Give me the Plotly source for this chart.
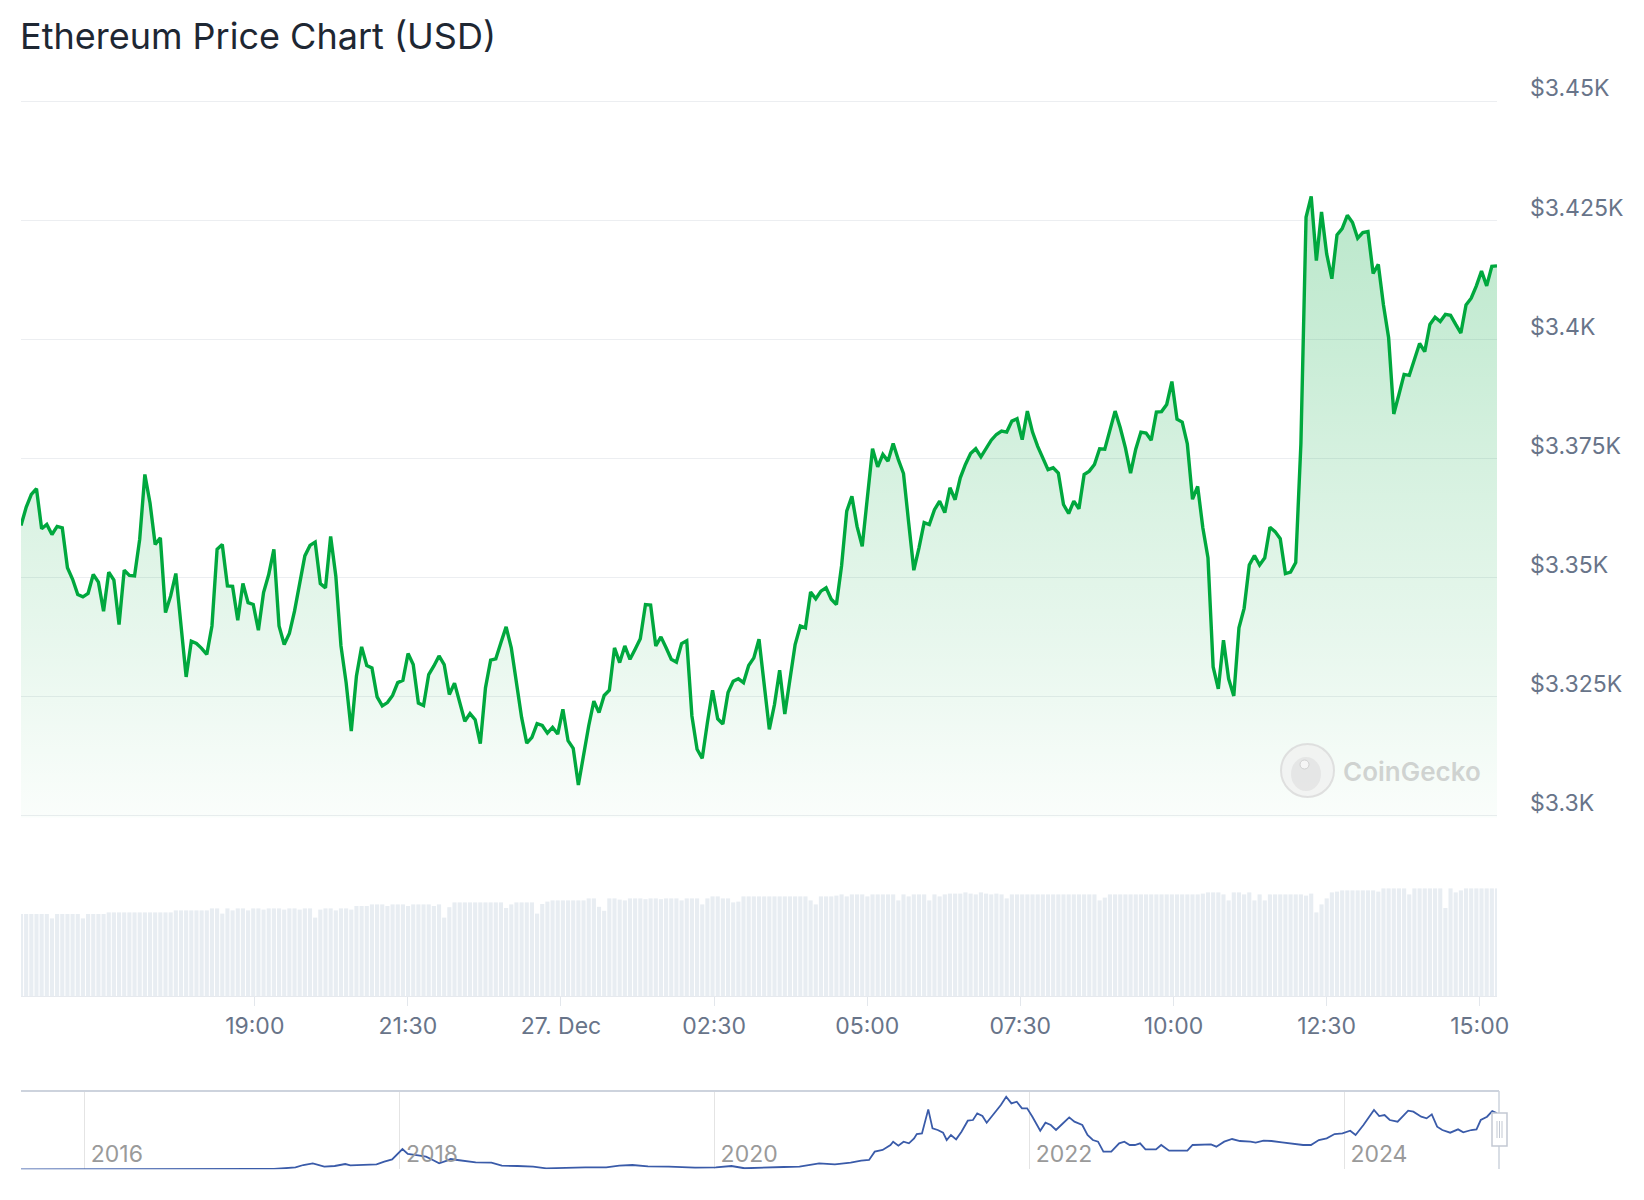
import pandas as pd
import plotly.graph_objects as go

W, H = 1644, 1200

# 24h window, 5-minute points
start_time = "2024-12-26 15:11"
end_time = "2024-12-27 15:17"

price = [
    3361.0, 3364.8, 3367.5, 3368.7, 3360.3, 3361.2, 3359.1, 3360.8, 3360.5, 3352.1,
    3349.7, 3346.5, 3346.0, 3346.7, 3350.7, 3349.1, 3343.0, 3351.2, 3349.5, 3340.2,
    3351.6, 3350.5, 3350.4, 3358.1, 3371.7, 3365.7, 3357.0, 3358.4, 3342.7, 3346.2,
    3350.9, 3340.6, 3329.2, 3336.7, 3336.2, 3335.2, 3333.9, 3339.9, 3356.0, 3357.0,
    3348.3, 3348.2, 3341.1, 3348.8, 3344.8, 3344.4, 3339.0, 3346.9, 3350.7, 3356.0,
    3339.9, 3336.0, 3338.3, 3343.0, 3349.0, 3354.6, 3356.8, 3357.5, 3348.8, 3347.9,
    3358.7, 3350.4, 3335.7, 3328.0, 3317.8, 3329.4, 3335.5, 3331.6, 3331.1, 3325.0,
    3323.1, 3323.8, 3325.3,
    3328.0, 3328.5, 3334.1, 3331.8, 3323.7, 3323.2, 3329.7, 3331.5, 3333.6, 3331.8,
    3325.5, 3327.9, 3323.8, 3319.9, 3321.5, 3320.2, 3315.2, 3326.9, 3332.7, 3333.0,
    3336.4, 3339.7, 3335.3, 3328.0, 3320.7, 3315.3, 3316.5, 3319.4, 3319.0, 3317.4,
    3318.6, 3317.2, 3322.4, 3315.8, 3314.2, 3306.5, 3313.0, 3318.9, 3324.1, 3321.7,
    3325.3, 3326.4, 3335.3, 3332.2, 3335.7, 3332.9, 3335.0, 3337.2, 3344.4, 3344.3,
    3335.7, 3337.6, 3335.3, 3332.9, 3332.3, 3336.2, 3336.8, 3321.0, 3314.0, 3312.1,
    3319.6, 3326.4, 3320.4, 3319.3, 3325.9, 3328.3, 3328.8, 3328.0, 3331.6, 3333.2,
    3337.1, 3327.3,
    3318.2, 3323.4, 3330.6, 3321.4, 3329.0, 3336.0, 3339.9, 3339.5, 3347.0, 3345.6,
    3347.2, 3347.9, 3345.5, 3344.4, 3352.5, 3364.0, 3367.1, 3360.8, 3356.6, 3367.5,
    3377.1, 3373.3, 3375.9, 3374.5, 3378.2, 3374.8, 3371.9, 3361.6, 3351.6, 3356.3,
    3361.6, 3361.2, 3364.3, 3366.1, 3363.7, 3368.9, 3366.4, 3371.0, 3373.8, 3376.1,
    3377.1, 3375.4, 3377.3, 3378.9, 3380.1, 3380.8, 3380.6, 3382.9, 3383.4, 3379.0,
    3385.0, 3380.6, 3377.6, 3375.2, 3372.7, 3373.1, 3372.0, 3365.4, 3363.5, 3366.1,
    3364.5, 3371.7, 3372.4, 3373.8, 3377.1, 3377.0, 3381.1, 3385.0, 3381.5, 3377.3,
    3372.0, 3377.0, 3380.6,
    3380.4, 3378.9, 3384.8, 3384.9, 3386.4, 3391.2, 3383.3, 3382.7, 3378.1, 3366.5,
    3369.2, 3360.5, 3354.2, 3331.3, 3326.7, 3336.9, 3328.8, 3325.2, 3339.5, 3343.6,
    3352.7, 3354.7, 3352.7, 3354.2, 3360.6, 3359.7, 3358.2, 3350.9, 3351.2, 3353.2,
    3378.1, 3425.7, 3430.1, 3416.6, 3426.8, 3418.0, 3412.8, 3422.0, 3423.3, 3426.1,
    3424.6, 3421.3, 3422.5, 3422.7, 3413.9, 3415.8, 3407.3, 3400.4, 3384.4, 3388.5,
    3392.7, 3392.5, 3395.8, 3399.2, 3397.5, 3403.2, 3404.7, 3403.8, 3405.3, 3405.1,
    3403.2, 3401.4, 3407.3, 3408.7, 3411.3, 3414.4, 3411.3, 3415.4, 3415.5,
]

# volume in billions USD (bars, no axis labels shown)
volume_bn = [
    20.5, 20.5, 20.5, 20.5, 20.5, 20.5, 19.4, 20.5, 20.5, 20.5,
    20.5, 20.5, 19.4, 20.5, 20.5, 20.5, 20.5, 20.9, 20.9, 20.9,
    20.9, 20.9, 20.9, 20.9, 20.9, 20.9, 20.9, 20.9, 20.9, 20.9,
    21.4, 21.4, 21.4, 21.4, 21.4, 21.4, 21.4, 21.9, 21.9, 20.6,
    21.9, 21.4, 21.9, 21.9, 21.4, 21.9, 21.9, 21.6, 21.9, 21.9,
    21.9, 21.6, 21.9, 21.9, 21.6, 21.9, 21.9, 19.6, 21.6, 21.9,
    21.9, 21.4, 21.9, 21.9, 21.6, 22.5, 22.5, 22.5, 22.9, 22.9,
    22.9, 22.5, 22.9, 22.9, 22.9, 22.5, 22.9, 22.9, 22.9, 22.9,
    22.5, 22.9, 19.6, 22.2, 23.4, 23.4, 23.4, 23.4, 23.4, 23.4,
    23.4, 23.4, 23.4, 23.4, 22.0, 22.9, 23.4, 23.4, 23.4, 23.4,
    20.6, 23.0, 23.6, 23.9, 23.9, 23.9, 23.9, 23.9, 23.9, 23.9,
    24.4, 24.4, 22.3, 21.3, 24.4, 24.4, 24.1, 23.9, 24.4, 24.4,
    24.4, 24.2, 24.4, 24.4, 24.2, 24.4, 24.4, 24.4, 23.9, 24.4,
    24.4, 24.4, 22.9, 24.4, 24.9, 24.9, 24.4, 24.4, 23.4, 23.6,
    24.9, 24.9, 24.9, 24.9, 24.9, 24.9, 24.9, 24.9, 24.9, 24.9,
    24.9, 24.9, 24.9, 23.9, 22.9, 24.9, 24.9, 24.9, 25.1, 25.4,
    24.9, 25.4, 25.4, 25.4, 24.9, 25.4, 25.4, 25.4, 25.4, 25.4,
    23.9, 25.4, 24.9, 25.4, 25.4, 25.4, 23.9, 25.4, 24.9, 25.4,
    25.6, 25.6, 25.6, 25.9, 25.6, 25.4, 25.9, 25.6, 25.4, 25.6,
    25.4, 24.4, 25.4, 25.4, 25.4, 25.4, 25.4, 25.4, 25.4, 25.4,
    25.4, 25.4, 25.4, 25.4, 25.4, 25.4, 25.4, 25.4, 25.4, 23.9,
    24.6, 25.4, 25.4, 25.4, 25.4, 25.4, 25.4, 25.4, 25.4, 25.4,
    25.4, 25.4, 25.4, 25.4, 25.4, 25.4, 25.4, 25.4, 25.4, 25.6,
    25.9, 25.9, 25.9, 25.4, 23.9, 25.9, 25.9, 25.4, 25.9, 23.9,
    25.4, 23.9, 25.4, 25.4, 25.4, 25.4, 25.4, 25.4, 25.4, 25.1,
    25.6, 20.9, 22.9, 24.4, 25.9, 26.1, 26.4, 26.4, 26.4, 26.4,
    26.4, 26.4, 26.4, 26.1, 26.9, 26.9, 26.9, 26.9, 26.9, 25.4,
    26.9, 26.9, 26.9, 26.9, 26.9, 26.9, 22.0, 26.9, 25.9, 26.4,
    26.9, 26.9, 26.9, 26.9, 26.9, 26.9, 26.9,
]

time_ticks = ["2024-12-26 19:00", "2024-12-26 21:30", "2024-12-27 00:00",
              "2024-12-27 02:30", "2024-12-27 05:00", "2024-12-27 07:30",
              "2024-12-27 10:00", "2024-12-27 12:30", "2024-12-27 15:00"]
time_tick_text = ["19:00", "21:30", "27. Dec", "02:30", "05:00", "07:30",
                  "10:00", "12:30", "15:00"]

price_ticks = [3300, 3325, 3350, 3375, 3400, 3425, 3450]
price_tick_text = ["$3.3K", "$3.325K", "$3.35K", "$3.375K", "$3.4K", "$3.425K", "$3.45K"]

# full-history navigator (decimal year, USD)
nav_year = [
    2015.59, 2016.00, 2016.45, 2016.90, 2017.20, 2017.336, 2017.386, 2017.446, 2017.519, 2017.585,
    2017.652, 2017.685, 2017.784, 2017.851, 2017.900, 2017.950, 2018.016, 2018.050, 2018.116, 2018.166,
    2018.209, 2018.249, 2018.299, 2018.322, 2018.365, 2018.415, 2018.481, 2018.581, 2018.647, 2018.747,
    2018.846, 2018.929, 2019.046, 2019.178, 2019.311, 2019.394, 2019.477, 2019.576, 2019.709, 2019.875,
    2020.008, 2020.107, 2020.190, 2020.307, 2020.439, 2020.539, 2020.605, 2020.664, 2020.764, 2020.864,
    2020.931, 2020.981, 2021.015, 2021.065, 2021.115, 2021.132, 2021.165, 2021.198, 2021.232, 2021.265,
    2021.282, 2021.315, 2021.355, 2021.382, 2021.415, 2021.449, 2021.472, 2021.499, 2021.532, 2021.566,
    2021.606, 2021.639, 2021.666, 2021.699, 2021.726, 2021.766, 2021.816, 2021.850, 2021.883, 2021.917,
    2021.950, 2021.983, 2022.017, 2022.067, 2022.100, 2022.134, 2022.167, 2022.200, 2022.251, 2022.284,
    2022.334, 2022.367, 2022.401, 2022.434, 2022.468, 2022.518, 2022.568, 2022.601, 2022.635, 2022.668,
    2022.701, 2022.735, 2022.802, 2022.835, 2022.885, 2022.935, 2023.002, 2023.035, 2023.102, 2023.152,
    2023.186, 2023.236, 2023.286, 2023.336, 2023.403, 2023.436, 2023.486, 2023.536, 2023.603, 2023.670,
    2023.737, 2023.787, 2023.837, 2023.887, 2023.937, 2023.987, 2024.037, 2024.071, 2024.121, 2024.188,
    2024.221, 2024.255, 2024.288, 2024.338, 2024.405, 2024.438, 2024.488, 2024.522, 2024.555, 2024.589,
    2024.622, 2024.672, 2024.722, 2024.755, 2024.806, 2024.839, 2024.866, 2024.906, 2024.939, 2024.972,
]
nav_price = [
    1, 1, 14, 8, 20, 130, 284, 394, 174, 218,
    350, 262, 284, 328, 505, 659, 1342, 1011, 923, 835,
    615, 394, 571, 681, 615, 549, 461, 438, 240, 218,
    174, 60, 110, 130, 130, 240, 286, 196, 174, 110,
    130, 218, 70, 130, 152, 174, 286, 394, 328, 438,
    571, 615, 1166, 1276, 1606, 1827, 1562, 1827, 1716, 2047,
    2333, 2377, 3964, 2708, 2598, 2421, 1937, 2267, 1981, 2488,
    3215, 3259, 3700, 3523, 3082, 3589, 4250, 4801, 4361, 4471,
    4030, 4030, 3479, 2554, 3082, 2928, 2598, 2928, 3435, 3148,
    2928, 2267, 1937, 1827, 1166, 1166, 1716, 1827, 1606, 1606,
    1716, 1320, 1320, 1606, 1232, 1232, 1232, 1606, 1606, 1650,
    1496, 1827, 2003, 1871, 1827, 1760, 1893, 1871, 1783, 1672,
    1606, 1606, 1937, 2047, 2333, 2377, 2554, 2267, 2928, 3920,
    3523, 3589, 3259, 3148, 3876, 3810, 3479, 3369, 3634, 2818,
    2598, 2421, 2642, 2443, 2598, 2642, 3259, 3479, 3854, 3700,
]
nav_ticks = ["2016-01-01", "2018-01-01", "2020-01-01", "2022-01-01", "2024-01-01"]
nav_tick_text = ["2016", "2018", "2020", "2022", "2024"]


def px_x(x):
    return x / W


def px_y(y):
    return 1 - y / H


def year_to_date(y):
    yr = int(y)
    return pd.Timestamp(yr, 1, 1) + pd.Timedelta(days=(y - yr) * 365.25)


times = pd.date_range(start_time, end_time, periods=len(price))
vol_times = pd.date_range(start_time, end_time, periods=len(volume_bn))
nav_dates = [year_to_date(y) for y in nav_year]

FONT = "Inter"
TICK_COLOR = "#687489"
GREEN = "#00a83e"
x_dom = [px_x(21), px_x(1497)]

fig = go.Figure()

fig.add_trace(go.Bar(
    x=vol_times, y=volume_bn, xaxis="x2", yaxis="y2",
    marker=dict(color="#e8edf2", line=dict(width=0)),
    hoverinfo="skip",
))

fig.add_trace(go.Scatter(
    x=times, y=price, mode="lines", xaxis="x", yaxis="y",
    line=dict(color=GREEN, width=3.4),
    fill="tozeroy",
    fillgradient=dict(type="vertical", start=3300, stop=3450,
                      colorscale=[[0, "rgba(0,168,62,0.02)"], [1, "rgba(0,168,62,0.31)"]]),
    hoverinfo="skip",
))

fig.add_trace(go.Scatter(
    x=nav_dates, y=nav_price, mode="lines", xaxis="x3", yaxis="y3",
    line=dict(color="#3a5ba9", width=1.8),
    hoverinfo="skip",
))

tick_font = dict(family=FONT, size=23, color=TICK_COLOR)

fig.update_layout(
    width=W, height=H, template="none",
    margin=dict(l=0, r=0, t=0, b=0),
    paper_bgcolor="white", plot_bgcolor="rgba(0,0,0,0)",
    showlegend=False, hovermode=False, bargap=0.2,
    font=dict(family=FONT),
    xaxis=dict(domain=x_dom, anchor="y", type="date", range=[start_time, end_time],
               showticklabels=False, showgrid=False, zeroline=False, showline=False, ticks=""),
    yaxis=dict(domain=[px_y(817.4), px_y(100.1)], anchor="x", range=[3299.7, 3450.3],
               side="right", tickvals=price_ticks, ticktext=price_tick_text,
               showgrid=True, gridcolor="#eceef1", gridwidth=1, zeroline=False,
               showline=False, ticks="", ticklabelposition="outside top",
               ticklabelstandoff=32, ticklabelshift=3, tickfont=tick_font),
    xaxis2=dict(domain=x_dom, anchor="y2", type="date", range=[start_time, end_time],
                tickvals=time_ticks, ticktext=time_tick_text, tickfont=tick_font,
                ticks="outside", ticklen=9, tickwidth=1, tickcolor="#e3e7ec",
                showline=True, linecolor="#e6e9ee", linewidth=1,
                showgrid=False, zeroline=False),
    yaxis2=dict(domain=[px_y(996), px_y(870)], anchor="x2", range=[0, 31.5],
                visible=False, showgrid=False),
    xaxis3=dict(domain=x_dom, anchor="y3", type="date",
                range=["2015-08-06", "2024-12-20"],
                tickvals=nav_ticks, ticktext=nav_tick_text,
                ticklabelposition="inside right", ticklabelshift=6,
                ticklabelstandoff=-3, ticks="",
                tickfont=dict(family=FONT, size=23, color="#9a9a9a"),
                showgrid=True, gridcolor="#e4e4e4", gridwidth=1,
                showline=False, zeroline=False),
    yaxis3=dict(domain=[px_y(1169.3), px_y(1091)], anchor="x3", range=[0, 5178],
                visible=False, showgrid=False),
)

# title
fig.add_annotation(
    text="Ethereum Price Chart (USD)", xref="paper", yref="paper",
    x=px_x(18), y=px_y(36), xanchor="left", yanchor="middle", showarrow=False,
    font=dict(family=FONT, size=36, color="#1e2733"),
)

# CoinGecko watermark
fig.add_shape(type="circle", xref="paper", yref="paper",
              x0=px_x(1281), x1=px_x(1334), y0=px_y(797), y1=px_y(744),
              fillcolor="rgba(240,240,240,0.7)", line=dict(color="rgba(218,218,218,0.85)", width=2))
fig.add_shape(type="circle", xref="paper", yref="paper",
              x0=px_x(1291), x1=px_x(1321), y0=px_y(791), y1=px_y(757),
              fillcolor="rgba(222,222,222,0.6)", line=dict(width=0))
fig.add_shape(type="circle", xref="paper", yref="paper",
              x0=px_x(1300), x1=px_x(1309), y0=px_y(769), y1=px_y(760),
              fillcolor="rgba(246,246,246,0.9)", line=dict(color="rgba(205,205,205,0.9)", width=1))
fig.add_annotation(
    text="CoinGecko", xref="paper", yref="paper",
    x=px_x(1412), y=px_y(771), xanchor="center", yanchor="middle", showarrow=False,
    font=dict(family=FONT, size=26, color="rgba(170,170,170,0.5)", weight=600),
)

# navigator outline and handle
fig.add_shape(type="line", xref="paper", yref="paper",
              x0=px_x(21), x1=px_x(1499), y0=px_y(1091), y1=px_y(1091),
              line=dict(color="#cdd3dd", width=2))
fig.add_shape(type="line", xref="paper", yref="paper",
              x0=px_x(1499), x1=px_x(1499), y0=px_y(1091), y1=px_y(1169),
              line=dict(color="#cdd3dd", width=1.5))
fig.add_shape(type="rect", xref="paper", yref="paper",
              x0=px_x(1492), x1=px_x(1507), y0=px_y(1146), y1=px_y(1113),
              fillcolor="white", line=dict(color="#c3c9d3", width=1.5))
for hx in (1497, 1499.5, 1502):
    fig.add_shape(type="line", xref="paper", yref="paper",
                  x0=px_x(hx), x1=px_x(hx), y0=px_y(1138), y1=px_y(1121),
                  line=dict(color="#c3c9d3", width=1))

# the page body has a default 8px margin; drop it so pixel positions line up
fig.write_html("out.html", config={"displayModeBar": False},
               post_script="document.body.style.margin='0';")
